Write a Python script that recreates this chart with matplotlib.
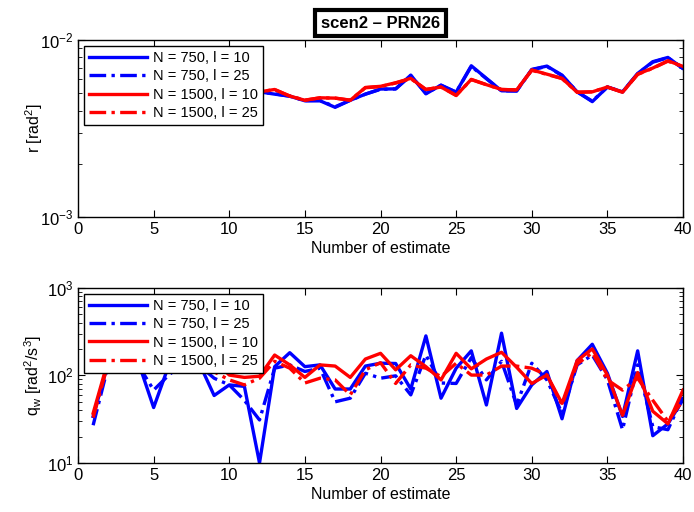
import matplotlib
matplotlib.use('Agg')
import matplotlib.pyplot as plt
import matplotlib.ticker as mticker
import numpy as np

plt.rcParams['font.family'] = ['Liberation Sans', 'DejaVu Sans']
plt.rcParams['mathtext.fontset'] = 'custom'
plt.rcParams['mathtext.rm'] = 'Liberation Sans'
plt.rcParams['mathtext.it'] = 'Liberation Sans'

est = np.arange(1, 41)

labels = ['N = 750, l = 10', 'N = 750, l = 25', 'N = 1500, l = 10', 'N = 1500, l = 25']

# r [rad^2] (first points sit behind the legend)
r_750_10 = [5.0e-3, 5.2e-3, 5.1e-3, 4.9e-3, 5.0e-3, 5.2e-3, 5.1e-3, 5.0e-3, 5.1e-3, 5.2e-3,
            5.2e-3, 5.1e-3, 4.95e-3, 4.82e-3, 4.54e-3, 4.54e-3, 4.17e-3, 4.57e-3, 4.95e-3, 5.29e-3,
            5.3e-3, 6.34e-3, 4.97e-3, 5.57e-3, 5.08e-3, 7.16e-3, 6.08e-3, 5.17e-3, 5.16e-3, 6.83e-3,
            7.13e-3, 6.34e-3, 5.1e-3, 4.49e-3, 5.43e-3, 5.1e-3, 6.48e-3, 7.55e-3, 7.98e-3, 6.91e-3]
r_750_25 = [5.0e-3, 5.2e-3, 5.1e-3, 4.9e-3, 5.0e-3, 5.2e-3, 5.1e-3, 5.0e-3, 5.1e-3, 5.2e-3,
            5.2e-3, 5.1e-3, 4.97e-3, 4.82e-3, 4.55e-3, 4.56e-3, 4.2e-3, 4.57e-3, 4.95e-3, 5.27e-3,
            5.3e-3, 6.3e-3, 5.0e-3, 5.55e-3, 5.08e-3, 7.1e-3, 6.05e-3, 5.17e-3, 5.16e-3, 6.8e-3,
            7.1e-3, 6.3e-3, 5.1e-3, 4.52e-3, 5.43e-3, 5.1e-3, 6.45e-3, 7.5e-3, 7.95e-3, 6.9e-3]
r_1500_10 = [5.0e-3, 5.2e-3, 5.1e-3, 4.9e-3, 5.0e-3, 5.2e-3, 5.1e-3, 5.0e-3, 5.1e-3, 5.2e-3,
             5.2e-3, 5.1e-3, 5.26e-3, 4.83e-3, 4.57e-3, 4.72e-3, 4.7e-3, 4.57e-3, 5.4e-3, 5.48e-3,
             5.74e-3, 6.08e-3, 5.26e-3, 5.43e-3, 4.86e-3, 6.0e-3, 5.6e-3, 5.26e-3, 5.23e-3, 6.78e-3,
             6.42e-3, 6.08e-3, 5.07e-3, 5.1e-3, 5.43e-3, 5.07e-3, 6.42e-3, 6.95e-3, 7.64e-3, 7.1e-3]
r_1500_25 = [5.0e-3, 5.2e-3, 5.1e-3, 4.9e-3, 5.0e-3, 5.2e-3, 5.1e-3, 5.0e-3, 5.1e-3, 5.2e-3,
             5.2e-3, 5.1e-3, 5.25e-3, 4.83e-3, 4.58e-3, 4.72e-3, 4.7e-3, 4.58e-3, 5.38e-3, 5.46e-3,
             5.72e-3, 6.06e-3, 5.26e-3, 5.43e-3, 4.88e-3, 5.98e-3, 5.6e-3, 5.26e-3, 5.23e-3, 6.75e-3,
             6.4e-3, 6.06e-3, 5.08e-3, 5.1e-3, 5.43e-3, 5.08e-3, 6.4e-3, 6.93e-3, 7.6e-3, 7.08e-3]

# q_w [rad^2/s^3]
q_750_10 = [34, 140, 150, 140, 43, 130, 150, 140, 59, 78,
            75, 10, 126, 182, 126, 132, 70, 70, 128, 138,
            137, 70, 283, 55, 121, 191, 46, 304, 42, 78,
            111, 32, 148, 227, 106, 34, 191, 20.5, 28, 53]
q_750_25 = [27, 130, 140, 130, 68, 101, 140, 130, 93, 78,
            52, 31, 121, 132, 111, 121, 50, 55, 106, 93,
            99, 60, 171, 82, 81, 160, 89, 145, 46, 138,
            89, 37, 132, 171, 89, 24, 132, 26, 24, 57]
q_1500_10 = [37, 150, 160, 150, 140, 150, 160, 160, 150, 101,
             95, 98, 171, 132, 95, 132, 128, 95, 154, 179,
             116, 168, 126, 89, 179, 119, 154, 184, 124, 81,
             101, 48, 148, 201, 101, 35, 108, 39, 28, 68]
q_1500_25 = [33, 140, 150, 140, 130, 140, 125, 130, 110, 89,
             78, 93, 145, 121, 82, 93, 89, 60, 116, 140,
             81, 132, 121, 97, 138, 101, 101, 128, 128, 121,
             101, 46, 135, 182, 89, 68, 93, 52, 30, 52]

colors = ['#0000ff', '#0000ff', '#ff0000', '#ff0000']
styles = ['-', (0, (5, 1.6, 1, 1.6)), '-', (0, (5, 1.6, 1, 1.6))]

fig = plt.figure(figsize=(6.94, 5.12), dpi=100)
ax1 = fig.add_axes([0.1124, 0.576, 0.8718, 0.3457])
ax2 = fig.add_axes([0.1124, 0.0957, 0.8718, 0.342])


def draw(ax, series, ylim, ylabel, ypad):
    """one panel with the four estimates"""
    for s, c, ls, lab in zip(series, colors, styles, labels):
        ax.semilogy(est, s, color=c, linestyle=ls, linewidth=2.4, label=lab)
    ax.set_xlim(0, 40)
    ax.set_ylim(*ylim)
    ax.set_xticks(np.arange(0, 41, 5))
    ax.yaxis.set_major_locator(mticker.LogLocator(base=10))
    ax.yaxis.set_minor_locator(mticker.LogLocator(base=10, subs=np.arange(2, 10)))
    ax.yaxis.set_minor_formatter(mticker.NullFormatter())
    ax.set_xlabel('Number of estimate', fontsize=11.5, labelpad=3)
    ax.set_ylabel(ylabel, fontsize=11.5, labelpad=ypad)
    ax.tick_params(which='both', direction='in', top=True, right=True, labelsize=12)
    ax.tick_params(which='major', length=5)
    ax.tick_params(which='minor', length=3)
    for sp in ax.spines.values():
        sp.set_linewidth(1.0)
    leg = ax.legend(loc='upper left', fontsize=10.5, handlelength=4.0, fancybox=False,
                    framealpha=1, edgecolor='black', borderaxespad=0.4,
                    labelspacing=0.3, borderpad=0.35, handletextpad=0.4)
    leg.get_frame().set_linewidth(1.0)


draw(ax1, [r_750_10, r_750_25, r_1500_10, r_1500_25], (1e-3, 1e-2), 'r [rad$^2$]', -4)
draw(ax2, [q_750_10, q_750_25, q_1500_10, q_1500_25], (10, 1000), 'q$_w$ [rad$^2$/s$^3$]', 2)

ax1.set_title('scen2 – PRN26', fontsize=12, fontweight='bold', pad=9,
              bbox=dict(facecolor='white', edgecolor='black', linewidth=3, boxstyle='square,pad=0.35'))

fig.savefig('out.png', dpi=100)
